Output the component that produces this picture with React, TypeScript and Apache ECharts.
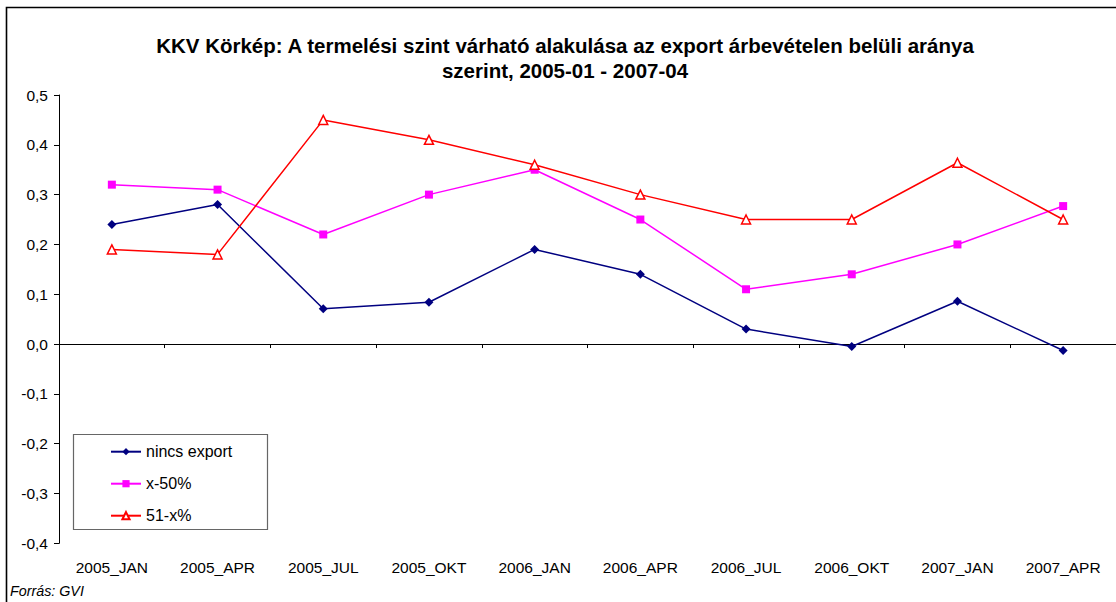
import React, { useEffect, useRef } from "react";
import * as echarts from "echarts";

const categories = [
  "2005_JAN", "2005_APR", "2005_JUL", "2005_OKT", "2006_JAN",
  "2006_APR", "2006_JUL", "2006_OKT", "2007_JAN", "2007_APR",
];
const ninscExport = [0.24, 0.28, 0.071, 0.084, 0.19, 0.14, 0.03, -0.005, 0.086, -0.013];
const x50 = [0.32, 0.31, 0.22, 0.30, 0.35, 0.25, 0.11, 0.14, 0.20, 0.277];
const x51 = [0.19, 0.18, 0.45, 0.41, 0.36, 0.30, 0.25, 0.25, 0.364, 0.25];
const seriesNames = ["nincs export", "x-50%", "51-x%"];

const FONT = '"Liberation Sans", Arial, sans-serif';

export default function App() {
  const ref = useRef<HTMLDivElement>(null);
  useEffect(() => {
    if (!ref.current) return;
    const chart = echarts.init(ref.current, undefined, { renderer: "svg" });
    chart.setOption({
      animation: false,
      backgroundColor: "#ffffff",
      textStyle: { fontFamily: FONT },
      graphic: [
        {
          type: "rect",
          shape: { x: 6.5, y: 7.5, width: 1300, height: 800 },
          style: { fill: "none", stroke: "#000", lineWidth: 1.6 },
          silent: true,
        },
        {
          type: "text",
          style: {
            x: 565,
            y: 57.5,
            text:
              "KKV Körkép: A termelési szint várható alakulása az export árbevételen belüli aránya\nszerint, 2005-01 - 2007-04",
            align: "center",
            verticalAlign: "middle",
            font: `bold 20.5px ${FONT}`,
            lineHeight: 25,
            fill: "#000",
          },
        },
        {
          type: "rect",
          shape: { x: 73.5, y: 434.5, width: 194, height: 95 },
          style: { fill: "#fff", stroke: "#666", lineWidth: 1.2 },
          z: 0,
          silent: true,
        },
        {
          type: "text",
          style: {
            x: 10,
            y: 591,
            text: "Forrás: GVI",
            verticalAlign: "middle",
            font: `italic 14.3px ${FONT}`,
            fill: "#000",
          },
        },
      ],
      legend: {
        orient: "vertical",
        left: 110,
        top: 443.7,
        itemWidth: 30,
        itemHeight: 9,
        itemGap: 16,
        padding: 0,
        z: 10,
        textStyle: { fontFamily: FONT, fontSize: 16, lineHeight: 16, color: "#000" },
        data: seriesNames,
      },
      grid: { left: 59, top: 95, width: 1066, height: 448.3 },
      xAxis: {
        type: "category",
        data: categories,
        boundaryGap: true,
        axisLine: { lineStyle: { color: "#000", width: 1 } },
        axisTick: { show: true, length: 4, alignWithLabel: false, lineStyle: { color: "#000" } },
        axisLabel: { color: "#000", fontSize: 15.5, fontFamily: FONT, margin: 16, interval: 0 },
        splitLine: { show: false },
      },
      yAxis: {
        type: "value",
        min: -0.4,
        max: 0.5,
        interval: 0.1,
        axisLine: { show: true, lineStyle: { color: "#000", width: 1 } },
        axisTick: { show: true, length: 5, lineStyle: { color: "#000" } },
        axisLabel: {
          color: "#000",
          fontSize: 15.5,
          fontFamily: FONT,
          margin: 11,
          formatter: (v: number) => (Math.abs(v) < 1e-9 ? "0,0" : v.toFixed(1).replace(".", ",")),
        },
        splitLine: { show: false },
      },
      series: [
        {
          name: seriesNames[0],
          type: "line",
          data: ninscExport,
          symbol: "diamond",
          symbolSize: 9,
          lineStyle: { color: "#000080", width: 1.5 },
          itemStyle: { color: "#000080" },
        },
        {
          name: seriesNames[1],
          type: "line",
          data: x50,
          symbol: "rect",
          symbolSize: 8,
          lineStyle: { color: "#FF00FF", width: 1.5 },
          itemStyle: { color: "#FF00FF" },
        },
        {
          name: seriesNames[2],
          type: "line",
          data: x51,
          symbol: "triangle",
          symbolSize: 9,
          lineStyle: { color: "#FF0000", width: 1.5 },
          itemStyle: { color: "#ffffff", borderColor: "#FF0000", borderWidth: 1.5 },
        },
      ],
    });
    return () => chart.dispose();
  }, []);
  return (
    <div
      ref={ref}
      style={{ position: "fixed", left: 0, top: 0, width: 1116, height: 602 }}
    />
  );
}
